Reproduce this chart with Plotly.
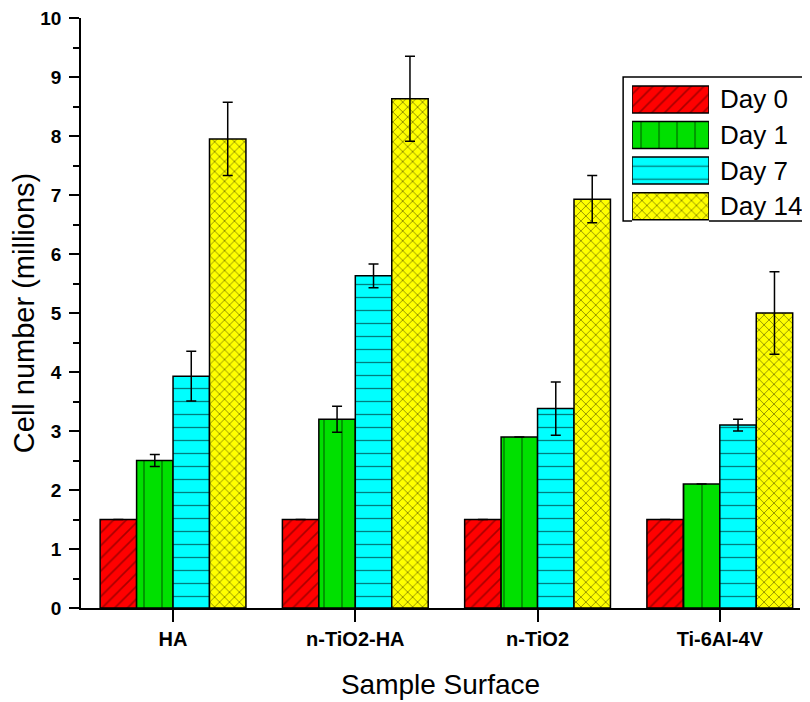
import plotly.graph_objects as go

categories = ["HA", "n-TiO2-HA", "n-TiO2", "Ti-6Al-4V"]
tick_labels = ["HA", "n-TiO2-HA", "n-TiO2", "Ti-6AI-4V"]
series_names = ["Day 0", "Day 1", "Day 7", "Day 14"]
day0 = [1.5, 1.5, 1.5, 1.5]
day1 = [2.5, 3.2, 2.9, 2.1]
day7 = [3.93, 5.63, 3.38, 3.1]
day14 = [7.95, 8.63, 6.93, 5.0]
err0 = [0, 0, 0, 0]
err1 = [0.1, 0.22, 0, 0]
err7 = [0.42, 0.2, 0.45, 0.1]
err14 = [0.62, 0.72, 0.4, 0.7]

values = [day0, day1, day7, day14]
errors = [err0, err1, err7, err14]
colors = ["#ff0000", "#00e000", "#00ffff", "#ffff00"]
patterns = ["/", "|", "-", "x"]
pfg = ["#500000", "#000000", "#000000", "#000000"]
psizes = [9, 18, 13, 7]
psolid = [0.18, 0.07, 0.1, 0.22]

FONT = "Liberation Sans, Arial, sans-serif"

fig = go.Figure()
for name, vals, errs, col, pat, fg, ps, sol in zip(series_names, values, errors, colors, patterns, pfg, psizes, psolid):
    fig.add_trace(go.Bar(
        name=name, x=list(range(len(categories))), y=vals, showlegend=False,
        marker=dict(color=col, line=dict(color="black", width=1.5),
                    pattern=dict(shape=pat, fgcolor=fg, size=ps, solidity=sol)),
        error_y=dict(type="data", array=errs, visible=True, color="black",
                     thickness=1.5, width=5),
    ))
    # legend swatch (inset axis)
    fig.add_trace(go.Bar(
        name=name, x=[1], y=[name], orientation="h", width=0.76,
        xaxis="x2", yaxis="y2", showlegend=False, hoverinfo="skip",
        marker=dict(color=col, line=dict(color="black", width=1.5),
                    pattern=dict(shape=pat, fgcolor=fg, size=ps, solidity=sol)),
    ))

annotations = [
    dict(x=0.886, xref="paper", y=name, yref="y2", text=name, showarrow=False,
         xanchor="left", yanchor="middle", font=dict(size=26, family=FONT, color="black"))
    for name in series_names
]

fig.update_layout(
    width=802, height=694,
    margin=dict(l=73, r=10, t=10, b=94),
    paper_bgcolor="white", plot_bgcolor="white",
    barmode="group", bargap=0.2, bargroupgap=0,
    font=dict(family=FONT, color="black"),
    showlegend=False,
    annotations=annotations,
    shapes=[dict(type="rect", xref="paper", yref="paper", x0=0.754, x1=1.03,
                 y0=0.656, y1=0.9, line=dict(color="black", width=1.5),
                 fillcolor="white", layer="below")],
    xaxis=dict(
        range=[-0.505, 3.44], tickmode="array",
        tickvals=list(range(len(categories))), ticktext=tick_labels,
        showline=True, linecolor="black", linewidth=1.5,
        ticks="outside", ticklen=12, tickwidth=1.5, tickcolor="black",
        tickfont=dict(size=20, family=FONT, weight="bold"),
        showgrid=False, zeroline=False, automargin=False,
        title=dict(text="Sample Surface", font=dict(size=28, family=FONT), standoff=26),
    ),
    yaxis=dict(
        range=[0, 10], dtick=1, tick0=0,
        showline=True, linecolor="black", linewidth=1.5,
        ticks="outside", ticklen=10, tickwidth=1.5, tickcolor="black",
        minor=dict(dtick=0.5, ticks="outside", ticklen=6, tickwidth=1.5, tickcolor="black"),
        tickfont=dict(size=19, family=FONT, weight="bold"),
        ticklabelstandoff=4, ticklabeloverflow="allow",
        showgrid=False, zeroline=False, automargin=False,
        title=dict(text="Cell number (millions)", font=dict(size=29, family=FONT), standoff=8),
    ),
    xaxis2=dict(domain=[0.7664, 0.8734], range=[0, 1], visible=False, anchor="y2",
                fixedrange=True),
    yaxis2=dict(domain=[0.651, 0.892], type="category", categoryorder="array",
                categoryarray=series_names, range=[3.5, -0.5], visible=False,
                anchor="x2", fixedrange=True),
)

fig.write_html("out.html")
